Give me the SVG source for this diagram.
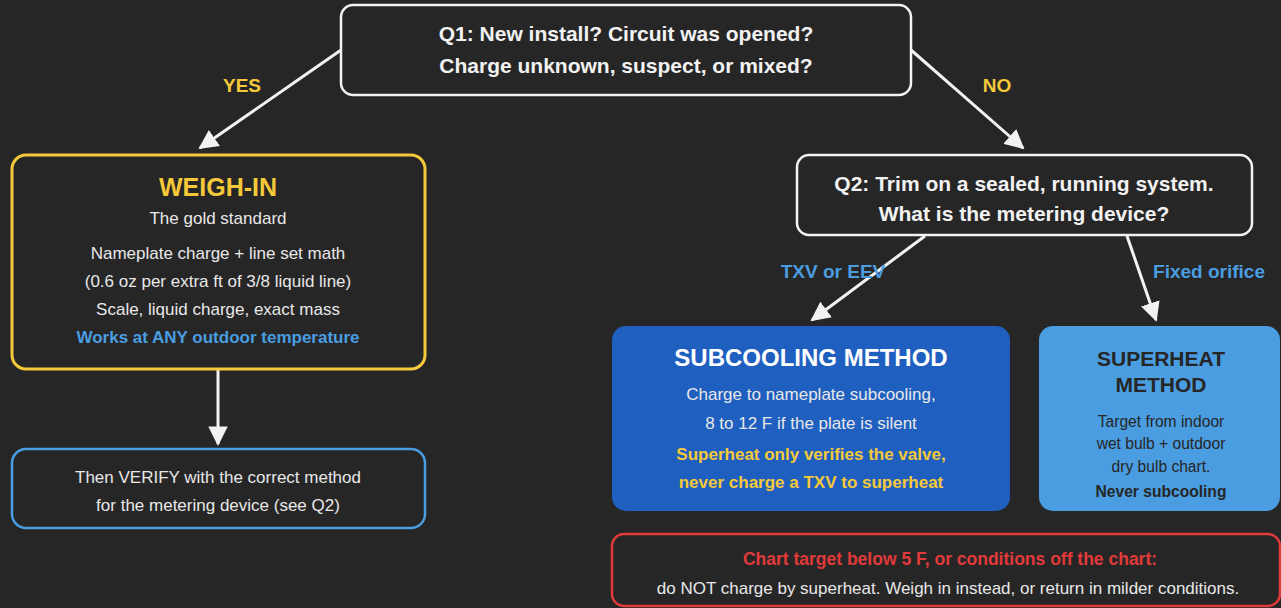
<svg xmlns="http://www.w3.org/2000/svg" width="1281" height="608" viewBox="0 0 1281 608">
<defs>
<marker id="ah" viewBox="0 0 10 10" refX="9" refY="5" markerWidth="6.5" markerHeight="6.5" markerUnits="strokeWidth" orient="auto">
<path d="M0,0 L10,5 L0,10 z" fill="#f2f2f2"/>
</marker>
<style>
text{font-family:"Liberation Sans",Arial,sans-serif;text-anchor:middle}
.q{fill:#262626;stroke:#f2f2f2;stroke-width:2.5}
.qt{fill:#f2f2f2;font-size:21px;font-weight:bold}
.t{fill:#e8e8e8;font-size:17px}
.b{font-weight:bold}
.y{fill:#f5c93a}
.bl{fill:#4a9de0}
.conn{stroke:#f2f2f2;stroke-width:3;fill:none;marker-end:url(#ah)}
.lbl{font-size:19px;font-weight:bold}
.sh{fill:#262626}
</style>
</defs>
<rect width="1281" height="608" fill="#262626"/>
<g id="connectors">
<line class="conn" x1="341" y1="50" x2="200" y2="148"/>
<line class="conn" x1="911" y1="50" x2="1023" y2="148"/>
<line class="conn" x1="218" y1="370" x2="218" y2="444"/>
<line class="conn" x1="925" y1="236" x2="812" y2="320"/>
<line class="conn" x1="1127" y1="236" x2="1156" y2="320"/>
<text class="lbl y" x="242" y="92">YES</text>
<text class="lbl y" x="997" y="92">NO</text>
<text class="lbl bl" x="833" y="278">TXV or EEV</text>
<text class="lbl bl" x="1209" y="278">Fixed orifice</text>
</g>
<g id="q1">
<rect class="q" x="341" y="5" width="570" height="90" rx="12"/>
<text class="qt" x="626" y="41">Q1: New install? Circuit was opened?</text>
<text class="qt" x="626" y="73">Charge unknown, suspect, or mixed?</text>
</g>
<g id="weigh-in">
<rect x="12" y="155" width="413" height="214" rx="14" fill="#262626" stroke="#f5c93a" stroke-width="3"/>
<text class="y b" x="218" y="196" font-size="25">WEIGH-IN</text>
<text class="t" x="218" y="224">The gold standard</text>
<text class="t" x="218" y="259">Nameplate charge + line set math</text>
<text class="t" x="218" y="287">(0.6 oz per extra ft of 3/8 liquid line)</text>
<text class="t" x="218" y="315">Scale, liquid charge, exact mass</text>
<text class="t b bl" x="218" y="343">Works at ANY outdoor temperature</text>
</g>
<g id="verify">
<rect x="12" y="449" width="413" height="79" rx="14" fill="#262626" stroke="#4a9de0" stroke-width="2.5"/>
<text class="t" x="218" y="483">Then VERIFY with the correct method</text>
<text class="t" x="218" y="511">for the metering device (see Q2)</text>
</g>
<g id="q2">
<rect class="q" x="797" y="155" width="455" height="80" rx="12"/>
<text class="qt" x="1024" y="191">Q2: Trim on a sealed, running system.</text>
<text class="qt" x="1024" y="221">What is the metering device?</text>
</g>
<g id="subcooling">
<rect x="612" y="326" width="398" height="185" rx="14" fill="#1f5fbf"/>
<text class="b" x="811" y="366" font-size="24" fill="#ffffff">SUBCOOLING METHOD</text>
<text class="t" x="811" y="400" fill="#ffffff">Charge to nameplate subcooling,</text>
<text class="t" x="811" y="429" fill="#ffffff">8 to 12 F if the plate is silent</text>
<text class="t b y" x="811" y="460">Superheat only verifies the valve,</text>
<text class="t b y" x="811" y="488">never charge a TXV to superheat</text>
</g>
<g id="superheat">
<rect x="1039" y="326" width="241" height="185" rx="14" fill="#4a9de0"/>
<text class="b sh" x="1161" y="366" font-size="21">SUPERHEAT</text>
<text class="b sh" x="1161" y="392" font-size="21">METHOD</text>
<text class="sh" x="1161" y="427" font-size="15.6">Target from indoor</text>
<text class="sh" x="1161" y="449" font-size="15.6">wet bulb + outdoor</text>
<text class="sh" x="1161" y="472" font-size="15.6">dry bulb chart.</text>
<text class="b sh" x="1161" y="497" font-size="15.6">Never subcooling</text>
</g>
<g id="warning">
<rect x="612" y="534" width="668" height="72" rx="12" fill="#262626" stroke="#e03a3a" stroke-width="2.5"/>
<text class="b" x="950" y="565" font-size="17.5" fill="#e03a3a">Chart target below 5 F, or conditions off the chart:</text>
<text class="t" x="948" y="594">do NOT charge by superheat. Weigh in instead, or return in milder conditions.</text>
</g>
</svg>
